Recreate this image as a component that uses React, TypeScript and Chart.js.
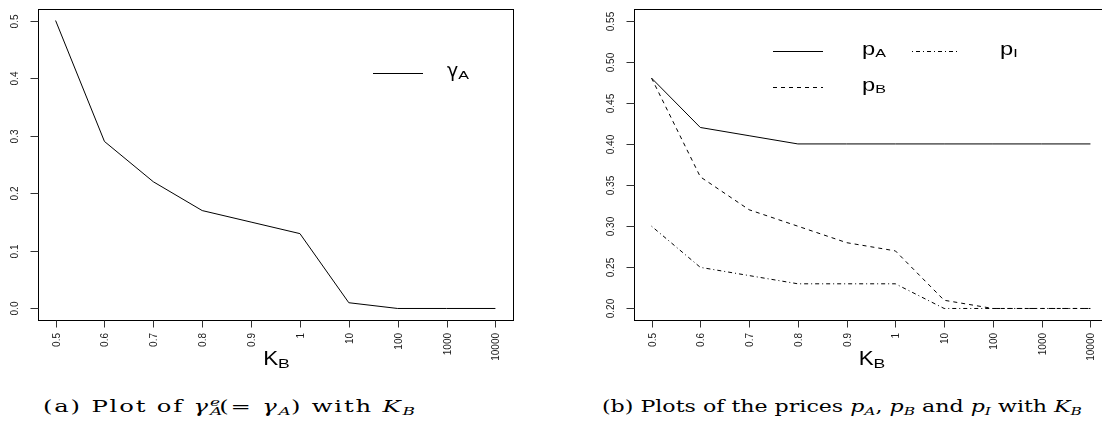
import React, { useEffect, useLayoutEffect, useRef } from "react";
import { Chart, registerables } from "chart.js";

Chart.register(...registerables);

// ---- data ----
const kbLabels = ["0.5", "0.6", "0.7", "0.8", "0.9", "1", "10", "100", "1000", "10000"];
const gammaA = [0.5, 0.29, 0.22, 0.17, 0.15, 0.13, 0.01, 0.0, 0.0, 0.0];
const pA = [0.48, 0.42, 0.41, 0.4, 0.4, 0.4, 0.4, 0.4, 0.4, 0.4];
const pB = [0.48, 0.36, 0.32, 0.3, 0.28, 0.27, 0.21, 0.2, 0.2, 0.2];
const pI = [0.3, 0.25, 0.24, 0.23, 0.23, 0.23, 0.2, 0.2, 0.2, 0.2];
const gammaTicks = [0.0, 0.1, 0.2, 0.3, 0.4, 0.5];
const gammaTickLabels = ["0.0", "0.1", "0.2", "0.3", "0.4", "0.5"];
const priceTicks = [0.2, 0.25, 0.3, 0.35, 0.4, 0.45, 0.5, 0.55];
const priceTickLabels = ["0.20", "0.25", "0.30", "0.35", "0.40", "0.45", "0.50", "0.55"];

const SANS = '"Liberation Sans", Arial, sans-serif';

function drawScaled(ctx: any, txt: string, x: number, y: number, font: string, sx: number) {
  ctx.save();
  ctx.font = font;
  ctx.translate(x, y);
  ctx.scale(sx, 1);
  ctx.fillText(txt, 0, 0);
  const w = ctx.measureText(txt).width * sx;
  ctx.restore();
  return w;
}

function measureScaled(ctx: any, txt: string, font: string, sx: number) {
  ctx.save();
  ctx.font = font;
  const w = ctx.measureText(txt).width * sx;
  ctx.restore();
  return w;
}

const rAxesPlugin = {
  id: "rAxes",
  afterDraw(chart: any, _args: any, opts: any) {
    const { ctx, chartArea: a, scales } = chart;
    const x = scales.x;
    const y = scales.y;
    ctx.save();
    // box
    ctx.strokeStyle = "#000";
    ctx.lineWidth = 1;
    ctx.setLineDash([]);
    ctx.strokeRect(a.left + 0.5, a.top + 0.5, a.right - a.left, a.bottom - a.top);

    // x ticks
    ctx.strokeStyle = "#333";
    ctx.fillStyle = "#1a1a1a";
    ctx.font = `10px ${SANS}`;
    opts.xLabels.forEach((lab: string, i: number) => {
      const px = Math.round(x.getPixelForValue(i + 1)) + 0.5;
      ctx.beginPath();
      ctx.moveTo(px, a.bottom + 0.5);
      ctx.lineTo(px, a.bottom + 7.5);
      ctx.stroke();
      ctx.save();
      ctx.translate(px, a.bottom + 13);
      ctx.rotate(-Math.PI / 2);
      ctx.scale(1, 1.1);
      ctx.textAlign = "right";
      ctx.textBaseline = "middle";
      ctx.fillText(lab, 0, 0.5);
      ctx.restore();
    });

    // y ticks
    opts.yTicks.forEach((v: number, i: number) => {
      const py = Math.round(y.getPixelForValue(v)) + 0.5;
      ctx.beginPath();
      ctx.moveTo(a.left - 7.5, py);
      ctx.lineTo(a.left + 0.5, py);
      ctx.stroke();
      ctx.save();
      ctx.translate(a.left - 23, py);
      ctx.rotate(-Math.PI / 2);
      ctx.scale(1, 1.1);
      ctx.textAlign = "center";
      ctx.textBaseline = "middle";
      ctx.fillText(opts.yLabels[i], 0, 0);
      ctx.restore();
    });

    // x axis title
    ctx.fillStyle = "#000";
    ctx.textAlign = "left";
    ctx.textBaseline = "alphabetic";
    const fMain = `20px ${SANS}`;
    const fSub = `13px ${SANS}`;
    const cx = (a.left + a.right) / 2 + 1;
    const wMain = measureScaled(ctx, opts.xTitle[0], fMain, 1.12);
    const wSub = measureScaled(ctx, opts.xTitle[1], fSub, 1.35);
    const sx = cx - (wMain + wSub) / 2;
    drawScaled(ctx, opts.xTitle[0], sx, a.bottom + 45, fMain, 1.12);
    drawScaled(ctx, opts.xTitle[1], sx + wMain, a.bottom + 48, fSub, 1.35);

    // legend
    opts.legend.forEach((it: any) => {
      ctx.strokeStyle = "#000";
      ctx.lineWidth = 1;
      ctx.setLineDash(it.dash);
      ctx.beginPath();
      ctx.moveTo(it.x1, it.y + 0.5);
      ctx.lineTo(it.x2, it.y + 0.5);
      ctx.stroke();
      ctx.setLineDash([]);
      ctx.fillStyle = "#000";
      const mainFont = it.main === "γ" ? `19px "DejaVu Sans", ${SANS}` : `19px ${SANS}`;
      const w = drawScaled(ctx, it.main, it.tx, it.y + 3.5, mainFont, it.main === "γ" ? 1.0 : 1.25);
      drawScaled(ctx, it.sub, it.tx + w, it.y + 5.5, `11.5px ${SANS}`, 1.4);
    });
    ctx.restore();
  },
};

function makeLine(data: number[], dash: number[]) {
  return {
    data: data.map((v, i) => ({ x: i + 1, y: v })),
    borderColor: "#000",
    borderWidth: 1,
    borderDash: dash,
    pointRadius: 0,
    tension: 0,
    fill: false,
  };
}

function baseOptions(yMin: number, yMax: number, padding: any, plugOpts: any) {
  return {
    responsive: false,
    animation: false,
    events: [],
    layout: { padding },
    scales: {
      x: { type: "linear", display: false, min: 0.64, max: 10.36 },
      y: { type: "linear", display: false, min: yMin, max: yMax },
    },
    plugins: {
      legend: { display: false },
      tooltip: { enabled: false },
      rAxes: plugOpts,
    },
  };
}

function LeftChart() {
  const ref = useRef<HTMLCanvasElement>(null);
  useEffect(() => {
    const chart = new Chart(ref.current as HTMLCanvasElement, {
      type: "line",
      data: { datasets: [makeLine(gammaA, [])] as any },
      options: baseOptions(-0.02, 0.52, { left: 38, top: 9, right: 38, bottom: 65 }, {
        xLabels: kbLabels,
        yTicks: gammaTicks,
        yLabels: gammaTickLabels,
        xTitle: ["K", "B"],
        legend: [{ x1: 373, x2: 423, y: 73, dash: [], main: "γ", sub: "A", tx: 447 }],
      }) as any,
      plugins: [rAxesPlugin],
    });
    return () => chart.destroy();
  }, []);
  return (
    <canvas ref={ref} width={551} height={385} style={{ position: "absolute", left: 0, top: 0 }} />
  );
}

function RightChart() {
  const ref = useRef<HTMLCanvasElement>(null);
  useEffect(() => {
    const chart = new Chart(ref.current as HTMLCanvasElement, {
      type: "line",
      data: {
        datasets: [makeLine(pA, []), makeLine(pB, [4, 4]), makeLine(pI, [1, 3, 4, 3])] as any,
      },
      options: baseOptions(0.186, 0.564, { left: 83, top: 9, right: 13, bottom: 65 }, {
        xLabels: kbLabels,
        yTicks: priceTicks,
        yLabels: priceTickLabels,
        xTitle: ["K", "B"],
        legend: [
          { x1: 222, x2: 272, y: 51, dash: [], main: "p", sub: "A", tx: 311 },
          { x1: 361, x2: 409, y: 51, dash: [1, 3, 4, 3], main: "p", sub: "I", tx: 449 },
          { x1: 222, x2: 272, y: 87, dash: [4, 4], main: "p", sub: "B", tx: 311 },
        ],
      }) as any,
      plugins: [rAxesPlugin],
    });
    return () => chart.destroy();
  }, []);
  return (
    <canvas ref={ref} width={570} height={385} style={{ position: "absolute", left: 551, top: 0 }} />
  );
}

const capStyle: React.CSSProperties = {
  position: "absolute",
  top: 397,
  left: 0,
  transformOrigin: "0 0",
  whiteSpace: "nowrap",
  fontFamily: '"DejaVu Serif", "Liberation Serif", serif',
  fontSize: 16,
  fontWeight: 400,
  lineHeight: "20px",
  color: "#000",
};

const subStyle: React.CSSProperties = {
  fontSize: "0.7em",
  verticalAlign: "-0.25em",
  lineHeight: 0,
  letterSpacing: 0,
};

function Caption({ center, width, spacing, children }: { center: number; width: number; spacing: number; children: any }) {
  const ref = useRef<HTMLDivElement>(null);
  useLayoutEffect(() => {
    const el = ref.current;
    if (!el) return;
    const w = el.getBoundingClientRect().width;
    const s = w > 0 ? width / w : 1;
    el.style.left = `${Math.round(center - width / 2)}px`;
    el.style.transform = `scaleX(${s.toFixed(3)})`;
  }, [width, center]);
  return (
    <div ref={ref} style={{ ...capStyle, letterSpacing: `${spacing}px` }}>
      {children}
    </div>
  );
}

export default function App() {
  useEffect(() => {
    document.body.style.margin = "0";
  }, []);
  return (
    <div
      style={{
        position: "fixed",
        left: 0,
        top: 0,
        width: 1102,
        height: 425,
        overflow: "hidden",
        background: "#fff",
      }}
    >
      <LeftChart />
      <RightChart />
      <Caption center={229} width={372} spacing={1.2}>
        (a) Plot of <i>γ</i>
        <span style={{ position: "relative", display: "inline-block", width: "0.55em", height: 0, fontSize: "0.7em", letterSpacing: 0 }}>
          <i style={{ position: "absolute", left: 0, top: "-1.35em", lineHeight: 1 }}>e</i>
          <i style={{ position: "absolute", left: 0, top: "-0.5em", lineHeight: 1 }}>A</i>
        </span>
        (= <i>γ</i>
        <i style={subStyle}>A</i>) with <i>K</i>
        <i style={subStyle}>B</i>
      </Caption>
      <Caption center={842} width={480} spacing={0}>
        (b) Plots of the prices <i>p</i>
        <i style={subStyle}>A</i>, <i>p</i>
        <i style={subStyle}>B</i> and <i>p</i>
        <i style={subStyle}>I</i> with <i>K</i>
        <i style={subStyle}>B</i>
      </Caption>
    </div>
  );
}
